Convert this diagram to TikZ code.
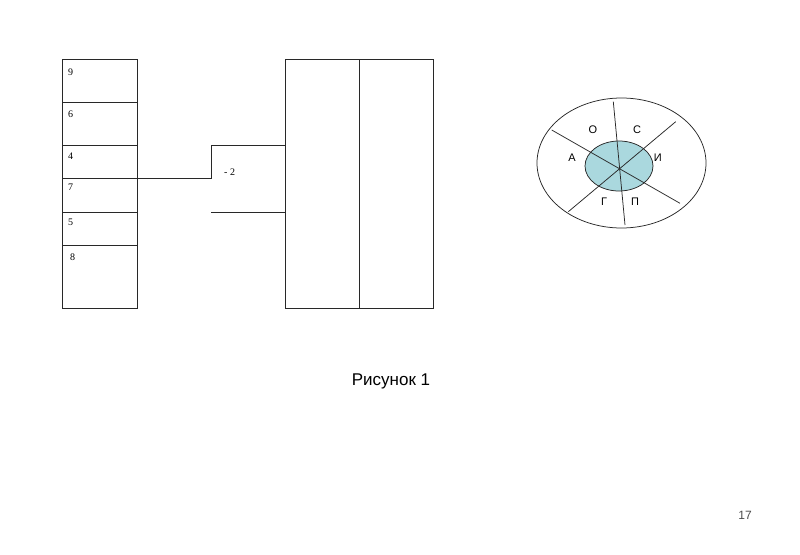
\documentclass[tikz,border=0pt]{standalone}
\usepackage{fontspec}
\setmainfont{Liberation Serif}
\newfontfamily\arialf{Liberation Sans}
\definecolor{innerfill}{RGB}{170,216,222}
\definecolor{linegray}{RGB}{40,40,40}
\begin{document}
\begin{tikzpicture}[x=1pt,y=-1pt,
  ln/.style={draw=linegray,line width=1pt},
  thin/.style={draw=linegray,line width=0.75pt},
  num/.style={font=\fontsize{10}{12}\selectfont,anchor=west,inner sep=0pt},
  lab/.style={font=\arialf\fontsize{11}{13}\selectfont,inner sep=0pt}]
\useasboundingbox (0,0) rectangle (800,554);
% left column
\draw[ln] (62,59) rectangle (137,308);
\foreach \yy in {102,145,178,212,245} \draw[ln] (62,\yy) -- (137,\yy);
\node[num] (n9) at (68,72) {9};
\node[num] (n6) at (68,114) {6};
\node[num] (n4) at (68,156) {4};
\node[num] (n7) at (68,187) {7};
\node[num] (n5) at (68,222) {5};
\node[num] (n8) at (70,257) {8};
% right box
\draw[ln] (285,59) rectangle (433,308);
\draw[ln] (359,59) -- (359,308);
\coordinate (c1) at (137,178);
\coordinate (c2) at (211,178);
\coordinate (c3) at (211,145);
\coordinate (c4) at (285,145);
\coordinate (c5) at (211,212);
\coordinate (c6) at (285,212);
\draw[ln] (c1) -- (c2) -- (c3) -- (c4);
\draw[ln] (c5) -- (c6);
\node[num] (m2) at (224,172) {- 2};
% ellipse
\draw[thin] (621.5,163) ellipse [x radius=84.5, y radius=65];
\draw[thin,fill=innerfill] (619,166) ellipse [x radius=34, y radius=25];
\coordinate (ctr) at (619.3,169);
\draw[thin] (613.3,101.7) -- (625,225);
\draw[thin] (551.7,130) -- (680,203.3);
\draw[thin] (675.7,121.7) -- (568.3,211.7);
\node[lab] (lo) at (593,130) {О};
\node[lab] (ls) at (637,130) {С};
\node[lab] (la) at (572,158) {А};
\node[lab] (li) at (657.7,158) {И};
\node[lab] (lg) at (604,201.7) {Г};
\node[lab] (lp) at (635,201.7) {П};
% captions
\node[font=\arialf\fontsize{17}{20}\selectfont,inner sep=0pt] (cap) at (391,381) {Рисунок 1};
\node[font=\arialf\fontsize{12}{14}\selectfont,inner sep=0pt,text=black!70] (pg) at (745,515) {17};
\end{tikzpicture}
\end{document}
